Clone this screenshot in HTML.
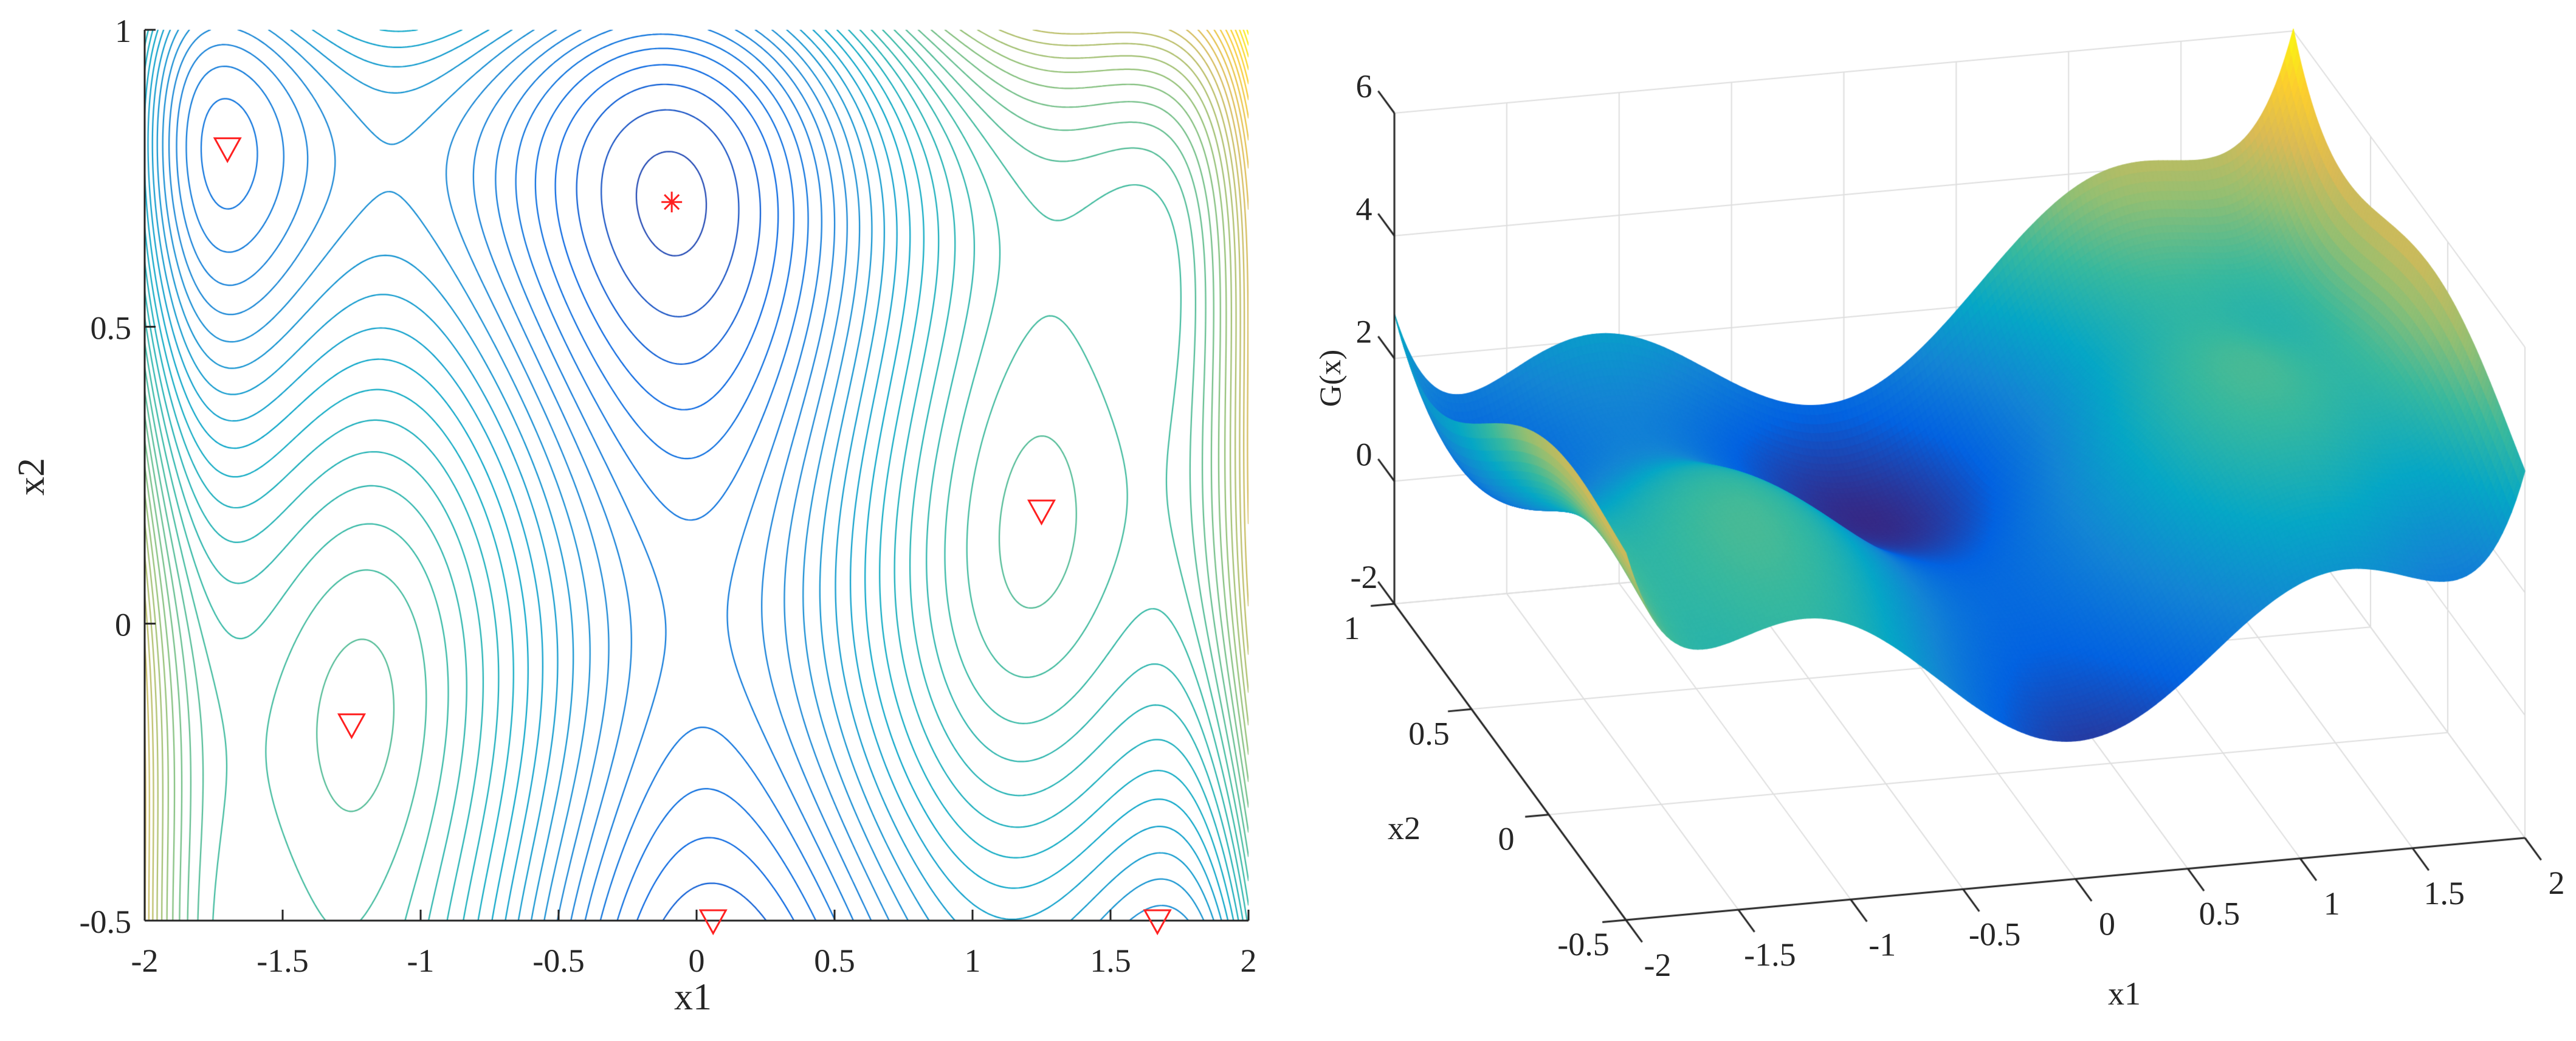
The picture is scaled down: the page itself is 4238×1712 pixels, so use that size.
<!DOCTYPE html>
<html>
<head>
<meta charset="utf-8">
<style>
html,body{margin:0;padding:0;background:#fff;}
#wrap{position:relative;width:4238px;height:1712px;overflow:hidden;background:#fff;}
canvas,svg{position:absolute;left:0;top:0;}
text{font-family:"Liberation Serif","DejaVu Serif",serif;fill:#262626;}
</style>
</head>
<body>
<div id="wrap">
<canvas id="c" width="4238" height="1712"></canvas>
<svg id="s" width="4238" height="1712"></svg>
</div>
<script>
// ---- data: six-hump camel G(x) polynomial terms [coef, power x1, power x2]
const termCoef = [4, -2.1, 1/3, 1, -4, 4];
const termPow1 = [2, 4, 6, 1, 0, 0];
const termPow2 = [0, 0, 0, 1, 2, 4];
const x1Ticks = [-2, -1.5, -1, -0.5, 0, 0.5, 1, 1.5, 2];
const x1TickLabels = ['-2','-1.5','-1','-0.5','0','0.5','1','1.5','2'];
const x2Ticks = [-0.5, 0, 0.5, 1];
const x2TickLabels = ['-0.5','0','0.5','1'];
const zTicks = [-2, 0, 2, 4, 6];
const zTickLabels = ['-2','0','2','4','6'];
const levelStart = -0.97, levelStep = 0.17, levelCount = 41;
const localMinX1 = [-1.70, -1.25, 1.25, 0.06, 1.67];
const localMinX2 = [0.80, -0.17, 0.19, -0.50, -0.50];
const globalMinX1 = [-0.09];
const globalMinX2 = [0.71];
// apparent height offset of rendered surface at box corners: [x1=-2/x2=-0.5, x1=2/x2=-0.5, x1=-2/x2=1, x1=2/x2=1]
const surfaceLift = [0.0, 2.0, 1.0, 0.3];

function G(a,b){let s=0;for(let i=0;i<termCoef.length;i++)s+=termCoef[i]*Math.pow(a,termPow1[i])*Math.pow(b,termPow2[i]);return s;}
const stops=[[0,53,42,135],[0.125,3,99,225],[0.25,20,133,212],[0.375,6,167,198],[0.5,56,185,158],[0.625,146,191,115],[0.75,217,186,86],[0.875,252,206,46],[1,249,251,14]];
function parula(t){t=Math.max(0,Math.min(1,t));for(let i=1;i<stops.length;i++){if(t<=stops[i][0]){const a=stops[i-1],b=stops[i];const f=(t-a[0])/(b[0]-a[0]);return 'rgb('+Math.round(a[1]+f*(b[1]-a[1]))+','+Math.round(a[2]+f*(b[2]-a[2]))+','+Math.round(a[3]+f*(b[3]-a[3]))+')';}}return 'rgb(249,251,14)';}

const ctx=document.getElementById('c').getContext('2d');
const svg=document.getElementById('s');
const NS='http://www.w3.org/2000/svg';
function el(tag,attrs,parent){const e=document.createElementNS(NS,tag);for(const k in attrs)e.setAttribute(k,attrs[k]);(parent||svg).appendChild(e);return e;}
function txt(x,y,s,size,anchor,name,rot){const t=el('text',{x:x,y:y,'font-size':size,'text-anchor':anchor||'middle'});if(rot)t.setAttribute('transform','rotate('+rot+' '+x+' '+y+')');t.textContent=s;


return t;}

// ================= LEFT: contour =================
const L={x0:238,x1:2054,y0:49,y1:1514};
const X=v=>L.x0+(v+2)/4*(L.x1-L.x0);
const Y=v=>L.y0+(1-v)/1.5*(L.y1-L.y0);
(function(){
 const nx=500,ny=190;const gx=[],gy=[],Z=[];
 for(let i=0;i<=nx;i++)gx.push(-2+4*i/nx);
 for(let j=0;j<=ny;j++)gy.push(-0.5+1.5*j/ny);
 for(let j=0;j<=ny;j++){const r=[];for(let i=0;i<=nx;i++)r.push(G(gx[i],gy[j]));Z.push(r);}
 const lmin=levelStart,lmax=levelStart+levelStep*(levelCount-1);
 ctx.save();ctx.beginPath();ctx.rect(L.x0,L.y0,L.x1-L.x0,L.y1-L.y0);ctx.clip();
 ctx.lineWidth=2.2;ctx.lineCap='round';
 for(let k=0;k<levelCount;k++){
  const lv=levelStart+k*levelStep;
  ctx.strokeStyle=parula(0.06+0.94*(lv-lmin)/(lmax-lmin));
  ctx.beginPath();
  for(let j=0;j<ny;j++)for(let i=0;i<nx;i++){
   const a=Z[j][i],b=Z[j][i+1],c=Z[j+1][i+1],d=Z[j+1][i];
   const pts=[];
   const e=(p,q,xa,ya,xb,yb)=>{if((p<lv)!==(q<lv)){const t=(lv-p)/(q-p);pts.push([X(xa+t*(xb-xa)),Y(ya+t*(yb-ya))]);}};
   e(a,b,gx[i],gy[j],gx[i+1],gy[j]);
   e(b,c,gx[i+1],gy[j],gx[i+1],gy[j+1]);
   e(c,d,gx[i+1],gy[j+1],gx[i],gy[j+1]);
   e(d,a,gx[i],gy[j+1],gx[i],gy[j]);
   if(pts.length>=2){ctx.moveTo(pts[0][0],pts[0][1]);ctx.lineTo(pts[1][0],pts[1][1]);}
   if(pts.length===4){ctx.moveTo(pts[2][0],pts[2][1]);ctx.lineTo(pts[3][0],pts[3][1]);}
  }
  ctx.stroke();
 }
 ctx.restore();
})();
// axes left
const axL=el('g',{});


el('line',{x1:L.x0,y1:L.y0,x2:L.x0,y2:L.y1,stroke:'#262626','stroke-width':3},axL);
el('line',{x1:L.x0,y1:L.y1,x2:L.x1,y2:L.y1,stroke:'#262626','stroke-width':3},axL);
x1Ticks.forEach((v,i)=>{el('line',{x1:X(v),y1:L.y1,x2:X(v),y2:L.y1-18,stroke:'#262626','stroke-width':3},axL);
 txt(X(v),L.y1+84,x1TickLabels[i],54,'middle','x-tick-label');});
x2Ticks.forEach((v,i)=>{el('line',{x1:L.x0,y1:Y(v),x2:L.x0+18,y2:Y(v),stroke:'#262626','stroke-width':3},axL);
 txt(L.x0-22,Y(v)+20,x2TickLabels[i],54,'end','y-tick-label');});
txt(1140,1660,'x1',62,'middle','x-axis-title');
txt(72,784,'x2',62,'middle','y-axis-title',-90);
// markers
localMinX1.forEach((v,i)=>{const cx=X(v),cy=Y(localMinX2[i]);
 const p=el('polygon',{points:(cx-21)+','+(cy-17)+' '+(cx+21)+','+(cy-17)+' '+cx+','+(cy+21),fill:'none',stroke:'#ff2020','stroke-width':3});
 
 });
globalMinX1.forEach((v,i)=>{const cx=X(v),cy=Y(globalMinX2[i]);const g=el('g',{stroke:'#ff2020','stroke-width':3});
 
 
 for(let a=0;a<4;a++){const an=a*Math.PI/4;el('line',{x1:cx-17*Math.cos(an),y1:cy-17*Math.sin(an),x2:cx+17*Math.cos(an),y2:cy+17*Math.sin(an)},g);}});

// ================= RIGHT: surface =================
const O=[2675,1513],V1=[1479/4,-135/4],V2=[-381/1.5,-520/1.5],VZ=[0,-807/8];
function P(a,b,z){return [O[0]+(a+2)*V1[0]+(b+0.5)*V2[0]+(z+2)*VZ[0],O[1]+(a+2)*V1[1]+(b+0.5)*V2[1]+(z+2)*VZ[1]];}
function lift(a,b){const u=(a+2)/4,v=(b+0.5)/1.5;return (1-v)*((1-u)*surfaceLift[0]+u*surfaceLift[1])+v*((1-u)*surfaceLift[2]+u*surfaceLift[3]);}
function seg(p,q,col,w){ctx.strokeStyle=col;ctx.lineWidth=w;ctx.beginPath();ctx.moveTo(p[0],p[1]);ctx.lineTo(q[0],q[1]);ctx.stroke();}
const gc='#dedede';
x1Ticks.forEach(v=>{seg(P(v,1,-2),P(v,1,6),gc,2);seg(P(v,-0.5,-2),P(v,1,-2),gc,2);});
x2Ticks.forEach(v=>{seg(P(2,v,-2),P(2,v,6),gc,2);seg(P(-2,v,-2),P(2,v,-2),gc,2);});
zTicks.forEach(v=>{seg(P(-2,1,v),P(2,1,v),gc,2);seg(P(2,-0.5,v),P(2,1,v),gc,2);});
(function(){
 const nx=200,ny=100;const quads=[];
 let zmin=Infinity,zmax=-Infinity;const Z=[],H=[];
 for(let j=0;j<=ny;j++){const r=[],h=[];for(let i=0;i<=nx;i++){const a=-2+4*i/nx,b=-0.5+1.5*j/ny;const z=G(a,b);r.push(z);h.push(z+lift(a,b));zmin=Math.min(zmin,z);zmax=Math.max(zmax,z);}Z.push(r);H.push(h);}
 for(let j=0;j<ny;j++)for(let i=0;i<nx;i++){const a=-2+4*i/nx,b=-0.5+1.5*j/ny,a2=-2+4*(i+1)/nx,b2=-0.5+1.5*(j+1)/ny;
  quads.push({d:33.75*(a+a2)/2+346.7*(b+b2)/2,pts:[P(a,b,H[j][i]),P(a2,b,H[j][i+1]),P(a2,b2,H[j+1][i+1]),P(a,b2,H[j+1][i])],z:(Z[j][i]+Z[j][i+1]+Z[j+1][i+1]+Z[j+1][i])/4});}
 quads.sort((p,q)=>q.d-p.d);
 ctx.lineWidth=1.4;ctx.lineJoin='round';
 quads.forEach(q=>{const c=parula((q.z-zmin)/(zmax-zmin));ctx.fillStyle=c;ctx.strokeStyle=c;ctx.beginPath();ctx.moveTo(q.pts[0][0],q.pts[0][1]);for(let k=1;k<4;k++)ctx.lineTo(q.pts[k][0],q.pts[k][1]);ctx.closePath();ctx.fill();ctx.stroke();});
})();
// 3D axes
const ac='#262626';
seg(P(-2,1,-2),P(-2,1,6),ac,3);
seg(P(-2,-0.5,-2),P(-2,1,-2),ac,3);
seg(P(-2,-0.5,-2),P(2,-0.5,-2),ac,3);
const u2=[V2[0]*0.105,V2[1]*0.105],u1=[-V1[0]*0.105,-V1[1]*0.105];
zTicks.forEach((v,i)=>{const p=P(-2,1,v);seg(p,[p[0]+u2[0],p[1]+u2[1]],ac,3);txt(p[0]-50,p[1]-26,zTickLabels[i],54,'middle','z-tick-label');});
x1Ticks.forEach((v,i)=>{const p=P(v,-0.5,-2);seg(p,[p[0]-u2[0],p[1]-u2[1]],ac,3);txt(p[0]+52,p[1]+92,x1TickLabels[i],54,'middle','x1-tick-label-3d');});
x2Ticks.forEach((v,i)=>{const p=P(-2,v,-2);seg(p,[p[0]+u1[0],p[1]+u1[1]],ac,3);txt(p[0]-70,p[1]+58,x2TickLabels[i],54,'middle','x2-tick-label-3d');});
txt(3495,1652,'x1',54,'middle','x1-axis-title-3d');
txt(2310,1380,'x2',54,'middle','x2-axis-title-3d');
txt(2205,622,'G(x)',50,'middle','z-axis-title',-90);
</script>
</body>
</html>
